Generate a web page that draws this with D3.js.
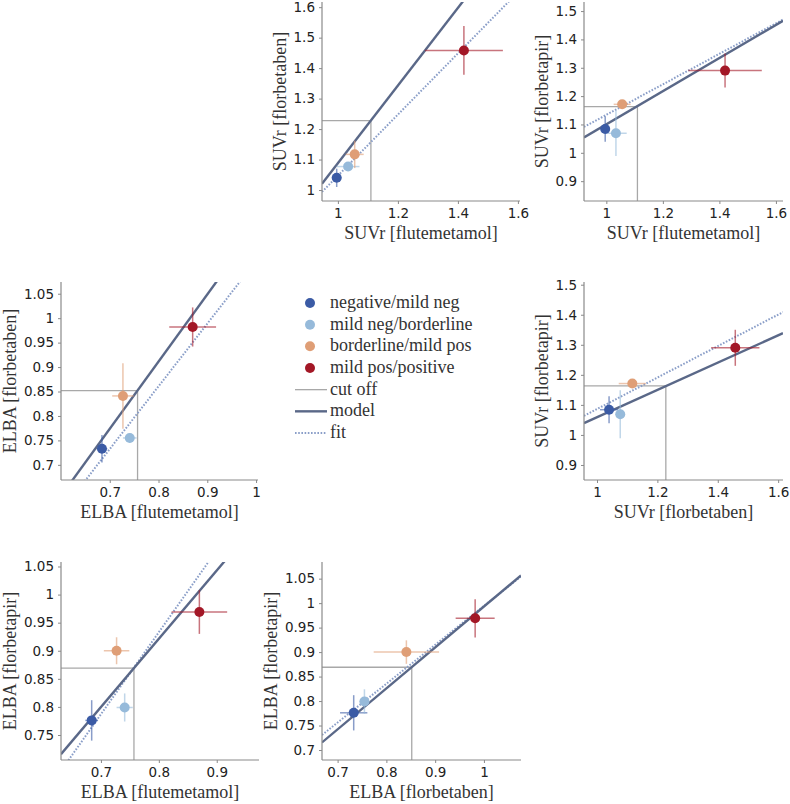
<!DOCTYPE html>
<html><head><meta charset="utf-8">
<script src="https://cdn.jsdelivr.net/npm/d3@7"></script>
<style>
body{margin:0;background:#fff;}
svg{display:block;}
.tick text{font-family:"DejaVu Sans",sans-serif;font-size:13.5px;fill:#222;}
.lab{font-family:"Liberation Serif","DejaVu Serif",serif;font-size:18px;fill:#333;}
</style></head>
<body>
<script>
// ---------- data ----------
const categories = ["negative/mild neg", "mild neg/borderline", "borderline/mild pos", "mild pos/positive"];
const catColors = ["#3b5ba5", "#96bada", "#df9e76", "#a31726"];

const suvrFlutemetamol    = [0.996, 1.034, 1.056, 1.420];
const suvrFlutemetamolErr = [0.016, 0.038, 0.030, 0.130];
const suvrFlorbetaben     = [1.040, 1.077, 1.117, 1.458];
const suvrFlorbetabenErr  = [0.030, 0.014, 0.045, 0.080];
const suvrFlorbetapir     = [1.084, 1.069, 1.171, 1.290];
const suvrFlorbetapirErr  = [0.045, 0.080, 0.010, 0.060];

const elbaFlutemetamol    = [0.684, 0.741, 0.727, 0.870];
const elbaFlutemetamolErr = [0.011, 0.014, 0.022, 0.048];
const elbaFlorbetaben     = [0.733, 0.755, 0.841, 0.982];
const elbaFlorbetabenErr  = [0.028, 0.010, 0.067, 0.040];
const elbaFlorbetapir     = [0.776, 0.799, 0.900, 0.969];
const elbaFlorbetapirErr  = [0.036, 0.025, 0.024, 0.039];

const suvrCutoff = {flutemetamol: 1.110, florbetaben: 1.228, florbetapir: 1.163};
const elbaCutoff = {flutemetamol: 0.757, florbetaben: 0.852, florbetapir: 0.869};

// model / fit lines: [slope, intercept]
const modelLines = {p1: [1.274, -0.186], p2: [0.584, 0.5165], p3: [1.374, -0.188], p4: [0.454, 0.605], p5: [1.216, -0.0515], p6: [0.836, 0.157]};
const fitLines   = {p1: [1.003, 0.044],  p2: [0.538, 0.596],  p3: [1.282, -0.165], p4: [0.524, 0.562], p5: [1.46, -0.235],   p6: [0.794, 0.2002]};

const suvrTicksA = [1, 1.2, 1.4, 1.6];
const suvrTicksY1 = [1, 1.1, 1.2, 1.3, 1.4, 1.5, 1.6];
const suvrTicksY2 = [0.9, 1, 1.1, 1.2, 1.3, 1.4, 1.5];
const elbaTicksX3 = [0.7, 0.8, 0.9, 1];
const elbaTicksX5 = [0.7, 0.8, 0.9];
const elbaTicksY = [0.7, 0.75, 0.8, 0.85, 0.9, 0.95, 1, 1.05];
const elbaTicksY5 = [0.75, 0.8, 0.85, 0.9, 0.95, 1, 1.05];

// ---------- panels ----------
const panels = [
  {id:"p1", box:[322,2,520,201], xd:[0.947,1.607], yd:[0.964,1.617], x:suvrFlutemetamol, xe:suvrFlutemetamolErr, y:suvrFlorbetaben, ye:suvrFlorbetabenErr,
   cx:suvrCutoff.flutemetamol, cy:suvrCutoff.florbetaben, xt:suvrTicksA, yt:suvrTicksY1, xl:"SUVr [flutemetamol]", yl:"SUVr [florbetaben]"},
  {id:"p2", box:[584,2,783,201], xd:[0.921,1.625], yd:[0.83,1.532], x:suvrFlutemetamol, xe:suvrFlutemetamolErr, y:suvrFlorbetapir, ye:suvrFlorbetapirErr,
   cx:suvrCutoff.flutemetamol, cy:suvrCutoff.florbetapir, xt:suvrTicksA, yt:suvrTicksY2, xl:"SUVr [flutemetamol]", yl:"SUVr [florbetapir]"},
  {id:"p3", box:[61,282,258,480], xd:[0.6,1.004], yd:[0.669,1.074], x:elbaFlutemetamol, xe:elbaFlutemetamolErr, y:elbaFlorbetaben, ye:elbaFlorbetabenErr,
   cx:elbaCutoff.flutemetamol, cy:elbaCutoff.florbetaben, xt:elbaTicksX3, yt:elbaTicksY, xl:"ELBA [flutemetamol]", yl:"ELBA [florbetaben]"},
  {id:"p4", box:[584,282,783,480], xd:[0.957,1.616], yd:[0.85,1.509], x:suvrFlorbetaben, xe:suvrFlorbetabenErr, y:suvrFlorbetapir, ye:suvrFlorbetapirErr,
   cx:suvrCutoff.florbetaben, cy:suvrCutoff.florbetapir, xt:suvrTicksA, yt:suvrTicksY2, xl:"SUVr [florbetaben]", yl:"SUVr [florbetapir]"},
  {id:"p5", box:[61,562,259,760], xd:[0.631,0.973], yd:[0.7055,1.058], x:elbaFlutemetamol, xe:elbaFlutemetamolErr, y:elbaFlorbetapir, ye:elbaFlorbetapirErr,
   cx:elbaCutoff.flutemetamol, cy:elbaCutoff.florbetapir, xt:elbaTicksX5, yt:elbaTicksY5, xl:"ELBA [flutemetamol]", yl:"ELBA [florbetapir]"},
  {id:"p6", box:[322,562,521,760], xd:[0.668,1.076], yd:[0.6796,1.084], x:elbaFlorbetaben, xe:elbaFlorbetabenErr, y:elbaFlorbetapir, ye:elbaFlorbetapirErr,
   cx:elbaCutoff.florbetaben, cy:elbaCutoff.florbetapir, xt:elbaTicksX3, yt:elbaTicksY, xl:"ELBA [florbetaben]", yl:"ELBA [florbetapir]"}
];

const W = 790, H = 804;
const svg = d3.select("body").append("svg").attr("width", W).attr("height", H);
const defs = svg.append("defs");
const fmt = d3.format("~g");
const modelColor = "#5a6888", fitColor = "#8a9ec8", cutColor = "#a8a8a8", spineColor = "#8a8a8a";

panels.forEach(p => {
  const [x0,y0,x1,y1] = p.box;
  const xs = d3.scaleLinear().domain(p.xd).range([x0,x1]);
  const ys = d3.scaleLinear().domain(p.yd).range([y1,y0]);
  defs.append("clipPath").attr("id","clip-"+p.id).append("rect")
    .attr("x",x0).attr("y",y0).attr("width",x1-x0).attr("height",y1-y0);
  const g = svg.append("g");
  const pg = g.append("g").attr("clip-path","url(#clip-"+p.id+")");

  // cut-off lines
  pg.append("line").attr("x1",xs(p.xd[0])).attr("x2",xs(p.cx)).attr("y1",ys(p.cy)).attr("y2",ys(p.cy))
    .attr("stroke",cutColor).attr("stroke-width",1.3);
  pg.append("line").attr("x1",xs(p.cx)).attr("x2",xs(p.cx)).attr("y1",ys(p.yd[0])).attr("y2",ys(p.cy))
    .attr("stroke",cutColor).attr("stroke-width",1.3);

  // model & fit
  const lineFor = ([m,b]) => [[p.xd[0], m*p.xd[0]+b],[p.xd[1], m*p.xd[1]+b]];
  const lg = d3.line().x(d=>xs(d[0])).y(d=>ys(d[1]));
  pg.append("path").attr("d", lg(lineFor(fitLines[p.id]))).attr("fill","none")
    .attr("stroke",fitColor).attr("stroke-width",2).attr("stroke-dasharray","1.6,1.6");
  pg.append("path").attr("d", lg(lineFor(modelLines[p.id]))).attr("fill","none")
    .attr("stroke",modelColor).attr("stroke-width",2.4);

  // error bars & points
  categories.forEach((c,i) => {
    const col = catColors[i];
    pg.append("line").attr("x1",xs(p.x[i]-p.xe[i])).attr("x2",xs(p.x[i]+p.xe[i]))
      .attr("y1",ys(p.y[i])).attr("y2",ys(p.y[i])).attr("stroke",col).attr("stroke-opacity",0.6).attr("stroke-width",1.5);
    pg.append("line").attr("x1",xs(p.x[i])).attr("x2",xs(p.x[i]))
      .attr("y1",ys(p.y[i]-p.ye[i])).attr("y2",ys(p.y[i]+p.ye[i])).attr("stroke",col).attr("stroke-opacity",0.6).attr("stroke-width",1.5);
  });
  categories.forEach((c,i) => {
    g.append("circle").attr("cx",xs(p.x[i])).attr("cy",ys(p.y[i])).attr("r",5).attr("fill",catColors[i]);
  });

  // axes
  const xa = g.append("g").attr("transform",`translate(0,${y1})`)
    .call(d3.axisBottom(xs).tickValues(p.xt).tickFormat(fmt).tickSize(3).tickPadding(4));
  const ya = g.append("g").attr("transform",`translate(${x0},0)`)
    .call(d3.axisLeft(ys).tickValues(p.yt).tickFormat(fmt).tickSize(3).tickPadding(4));
  [xa,ya].forEach(a => {
    a.select(".domain").attr("stroke",spineColor).attr("stroke-width",1.2)
      .attr("d", a===xa ? `M${x0},0H${x1}` : `M0,${y1}V${y0}`);
    a.selectAll(".tick line").attr("stroke",spineColor);
  });
  g.append("text").attr("class","lab").attr("x",(x0+x1)/2).attr("y",y1+38).attr("text-anchor","middle").text(p.xl);
  let minLeft = x0;
  ya.selectAll(".tick text").each(function(){ const b=this.getBBox(); minLeft=Math.min(minLeft, x0 + b.x); });
  g.append("text").attr("class","lab").attr("transform",`translate(${minLeft-8},${(y0+y1)/2}) rotate(-90)`)
    .attr("text-anchor","middle").text(p.yl);
});

// ---------- legend ----------
const legendLines = [
  {label:"cut off", color:cutColor, w:1.3, dash:null},
  {label:"model", color:modelColor, w:2.4, dash:null},
  {label:"fit", color:fitColor, w:2, dash:"1.6,1.6"}
];
const lgd = svg.append("g");
const ly = d3.scaleLinear().domain([0,6]).range([303,433]);
categories.forEach((c,i) => {
  lgd.append("circle").attr("cx",310).attr("cy",ly(i)).attr("r",5).attr("fill",catColors[i]);
  lgd.append("text").attr("class","lab").attr("x",330).attr("y",ly(i)+5).text(c);
});
legendLines.forEach((l,j) => {
  const yy = ly(4+j);
  lgd.append("line").attr("x1",295).attr("x2",327).attr("y1",yy).attr("y2",yy)
    .attr("stroke",l.color).attr("stroke-width",l.w).attr("stroke-dasharray",l.dash);
  lgd.append("text").attr("class","lab").attr("x",330).attr("y",yy+5).text(l.label);
});
</script>
</body></html>
